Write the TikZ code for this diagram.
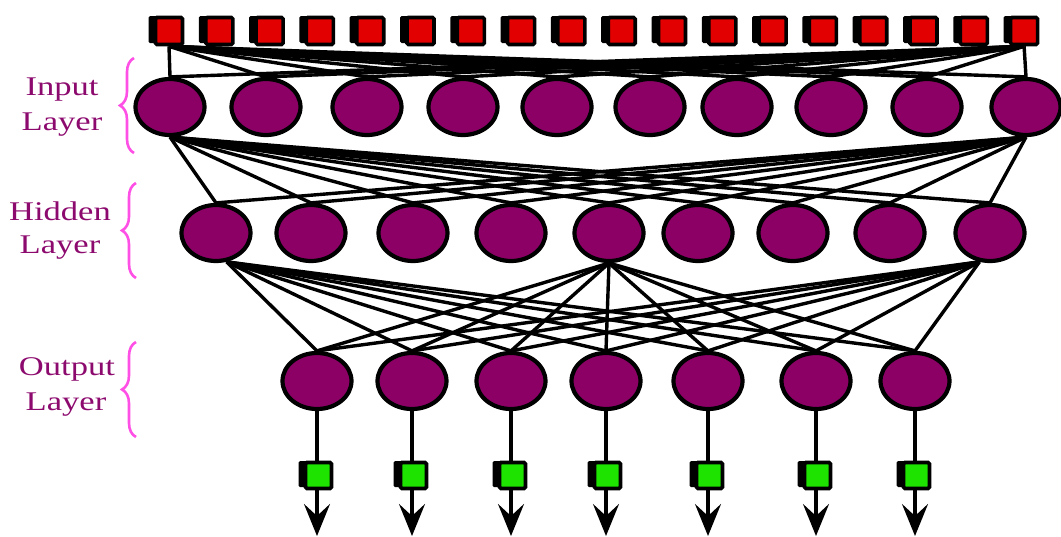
\documentclass[tikz,border=0pt]{standalone}
\usepackage{fontspec}
\setmainfont{Liberation Serif}
\usetikzlibrary{shapes.geometric,decorations.pathreplacing,arrows.meta,shadows}
\definecolor{nodepurple}{RGB}{140,0,102}
\definecolor{labpurple}{RGB}{140,10,110}
\definecolor{bracepink}{RGB}{255,80,230}
\definecolor{boxred}{RGB}{226,0,0}
\definecolor{boxgreen}{RGB}{30,226,0}
\pgfdeclarelayer{bg}
\pgfsetlayers{bg,main}
\tikzset{
  neuron/.style={ellipse, draw=black, line width=4.2pt, fill=nodepurple,
    minimum width=69pt, minimum height=56pt, inner sep=0pt},
  boxbase/.style={rectangle, draw=black, line width=3.6pt, rounded corners=1.5pt,
    inner sep=0pt, general shadow={fill=black, shadow xshift=-7pt, shadow yshift=1.5pt}},
  inbox/.style={boxbase, fill=boxred, minimum width=27pt, minimum height=27pt},
  outbox/.style={boxbase, fill=boxgreen, minimum width=26pt, minimum height=26pt},
  conn/.style={draw=black, line width=3.4pt},
  outarrow/.style={conn, -{Stealth[length=32pt,width=26pt,inset=12pt]}},
  lab/.style={text=labpurple, font=\fontsize{27}{33}\selectfont, inner sep=0pt, anchor=base},
  brc/.style={draw=bracepink, line width=2.6pt, decorate,
    decoration={brace, amplitude=14pt, aspect=0.5}}
}
\begin{document}
\begin{tikzpicture}[x=1pt,y=-1pt]
\useasboundingbox (0,0) rectangle (1061,536);

% top input squares
\foreach \i in {1,...,18} \node[inbox] (s\i) at ({169+50.3*(\i-1)},31) {};

% input layer
\foreach \x [count=\i] in {170,266,367,463,557,650,737,831,927,1026}
  \node[neuron] (i\i) at (\x,107) {};
% hidden layer
\foreach \x [count=\i] in {216,311,413,511,609,698,793,890,990}
  \node[neuron] (h\i) at (\x,233) {};
% output layer
\foreach \x [count=\i] in {317,412,511,606,708,816,915} {
  \node[neuron] (o\i) at (\x,381) {};
  \node[outbox] (g\i) at (\x+1.5,475.5) {};
  \coordinate (a\i) at (\x,536);
}

\begin{pgfonlayer}{bg}
  \foreach \k in {1,...,10} {
    \draw[conn] (s1.south) -- (i\k.north);
    \draw[conn] (s18.south) -- (i\k.north);
  }
  \foreach \k in {1,...,9} {
    \draw[conn] (i1.south) -- (h\k.north);
    \draw[conn] (i10.south) -- (h\k.north);
  }
  \foreach \k in {1,...,7} {
    \draw[conn] (h1.-70) -- (o\k.north);
    \draw[conn] (h5.south) -- (o\k.north);
    \draw[conn] (h9.-110) -- (o\k.north);
    \draw[conn] (o\k.south) -- (g\k.north -| o\k.south);
    \draw[outarrow] (g\k.south -| a\k) -- (a\k);
  }
\end{pgfonlayer}

% labels
\node[lab] (l1a) at (62,95) {\scalebox{1.28}[1]{Input}};
\node[lab] (l1b) at (62,130) {\scalebox{1.28}[1]{Layer}};
\node[lab] (l2a) at (60,220) {\scalebox{1.28}[1]{Hidden}};
\node[lab] (l2b) at (60,253) {\scalebox{1.28}[1]{Layer}};
\node[lab] (l3a) at (67,375) {\scalebox{1.28}[1]{Output}};
\node[lab] (l3b) at (66,410) {\scalebox{1.28}[1]{Layer}};

% braces
\coordinate (b1t) at (134,58);  \coordinate (b1b) at (134,153);
\coordinate (b2t) at (136,183); \coordinate (b2b) at (136,278);
\coordinate (b3t) at (136,342); \coordinate (b3b) at (136,437);
\draw[brc] (b1b) -- (b1t);
\draw[brc] (b2b) -- (b2t);
\draw[brc] (b3b) -- (b3t);
\end{tikzpicture}
\end{document}
